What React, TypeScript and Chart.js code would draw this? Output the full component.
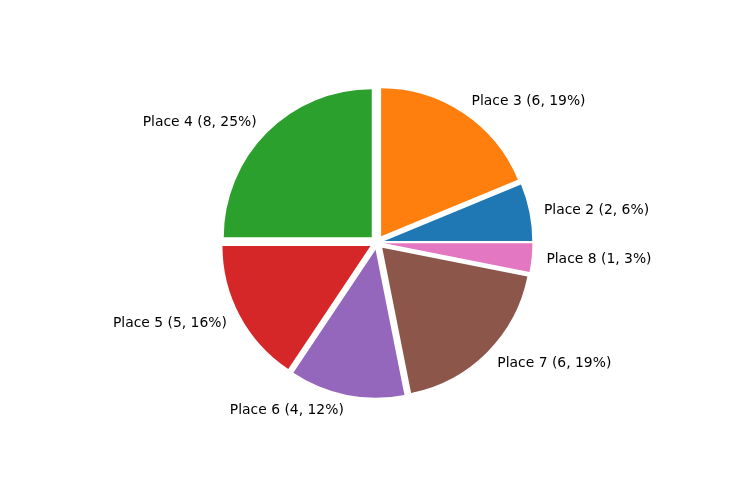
import { useEffect, useRef } from "react"
import { Chart, registerables } from "chart.js"

Chart.register(...registerables)

// matplotlib order: counter-clockwise from 3 o'clock
const places = ["Place 2", "Place 3", "Place 4", "Place 5", "Place 6", "Place 7", "Place 8"]
const counts = [2, 6, 8, 5, 4, 6, 1]
const colors = ["#1f77b4", "#ff7f0e", "#2ca02c", "#d62728", "#9467bd", "#8c564b", "#e377c2"]

const RADIUS = 148
const EXPLODE = 0.05 * RADIUS

const total = counts.reduce((a, b) => a + b, 0)

// round half to even, like python's format
const roundEven = (v: number) => {
  const f = Math.floor(v)
  const d = v - f
  if (Math.abs(d - 0.5) < 1e-9) return f % 2 === 0 ? f : f + 1
  return Math.round(v)
}

const labelText = places.map((p, i) => `${p} (${counts[i]}, ${roundEven((counts[i] / total) * 100)}%)`)

// Chart.js goes clockwise, so reverse to get the same layout
const rev = <T,>(a: T[]) => [...a].reverse()

const explodePlugin = {
  id: "explode",
  beforeDatasetDraw(chart: any, args: any) {
    const ctx = chart.ctx
    args.meta.data.forEach((arc: any) => {
      const mid = (arc.startAngle + arc.endAngle) / 2
      ctx.save()
      ctx.translate(Math.cos(mid) * EXPLODE, Math.sin(mid) * EXPLODE)
      arc.draw(ctx)
      ctx.restore()
    })
    return false
  },
  afterDatasetsDraw(chart: any) {
    const ctx = chart.ctx
    const meta = chart.getDatasetMeta(0)
    const texts = chart.data.labels as string[]
    ctx.save()
    ctx.font = "13.9px 'DejaVu Sans'"
    ctx.fillStyle = "#000"
    ctx.textBaseline = "middle"
    meta.data.forEach((arc: any, i: number) => {
      const mid = (arc.startAngle + arc.endAngle) / 2
      const d = EXPLODE + 1.1 * arc.outerRadius
      const x = arc.x + Math.cos(mid) * d
      const y = arc.y + Math.sin(mid) * d + 0.7
      ctx.textAlign = Math.cos(mid) >= 0 ? "left" : "right"
      ctx.fillText(texts[i], x, y)
    })
    ctx.restore()
  },
}

export default function App() {
  const canvasRef = useRef<HTMLCanvasElement>(null)

  useEffect(() => {
    if (!canvasRef.current) return
    document.body.style.margin = "0"
    const chart = new Chart(canvasRef.current, {
      type: "pie",
      data: {
        labels: rev(labelText),
        datasets: [
          {
            data: rev(counts),
            backgroundColor: rev(colors),
            borderWidth: 0,
            radius: RADIUS,
          } as any,
        ],
      },
      options: {
        animation: false,
        responsive: true,
        maintainAspectRatio: false,
        rotation: 90,
        layout: { padding: { left: 70, right: 52, top: 40, bottom: 35 } },
        plugins: {
          legend: { display: false },
          tooltip: { enabled: false },
        },
      },
      plugins: [explodePlugin],
    })
    return () => chart.destroy()
  }, [])

  return (
    <div style={{ width: 736, height: 480, position: "relative", background: "#fff" }}>
      <canvas ref={canvasRef}></canvas>
    </div>
  )
}
